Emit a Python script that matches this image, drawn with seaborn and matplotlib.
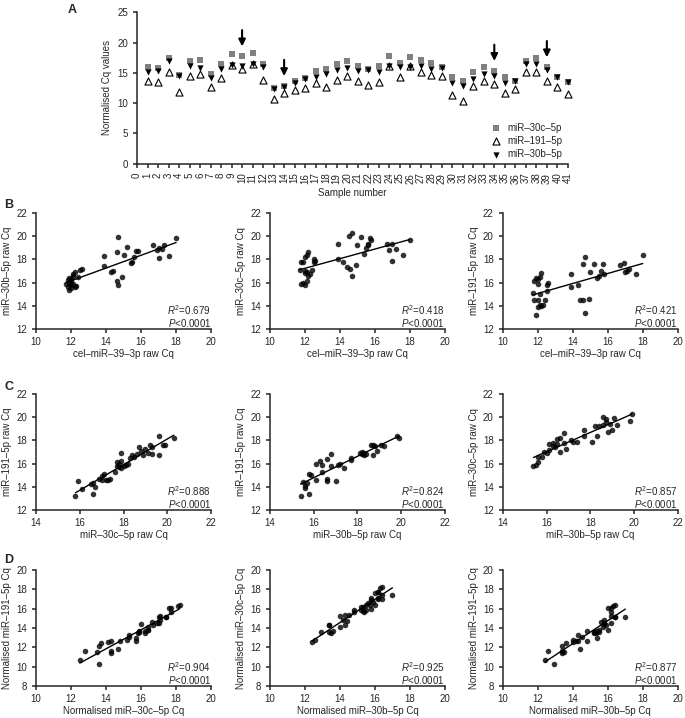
import numpy as np
import pandas as pd
import seaborn as sns
import matplotlib.pyplot as plt

# ---- data ----
samples = list(range(1, 42))
norm_30c = [15.9, 15.8, 17.4, 14.7, 17.0, 17.1, 14.8, 16.4, 18.1, 17.7, 18.2, 16.4, 12.5, 12.8,
            13.6, 14.1, 15.3, 15.7, 16.4, 16.9, 16.2, 15.7, 16.2, 17.7, 16.7, 17.6, 17.1, 16.6,
            16.0, 14.3, 13.6, 15.2, 15.9, 15.3, 14.3, 13.7, 17.0, 17.4, 15.9, 14.3, 13.5]
norm_191 = [13.6, 13.5, 15.1, 11.8, 14.5, 14.8, 12.7, 14.1, 16.3, 15.6, 16.4, 13.8, 10.7, 11.6,
            12.1, 12.5, 13.3, 12.6, 13.8, 14.5, 13.7, 13.0, 13.5, 16.1, 14.3, 16.1, 15.2, 14.6,
            14.4, 11.4, 10.3, 12.8, 13.7, 13.1, 11.6, 12.4, 15.1, 15.1, 13.6, 12.6, 11.5]
norm_30b = [15.2, 15.3, 17.0, 14.4, 16.2, 15.8, 14.2, 15.7, 16.3, 16.2, 16.4, 16.0, 12.4, 12.6,
            13.4, 14.0, 14.3, 14.8, 15.5, 15.8, 15.3, 15.4, 15.2, 16.2, 15.9, 16.0, 16.2, 15.6,
            15.8, 13.4, 12.9, 14.0, 14.8, 14.5, 13.4, 13.6, 16.4, 16.4, 15.5, 14.3, 13.5]
arrow_samples = [10, 14, 34, 39]

# panel B: raw Cq vs cel-miR-39 raw Cq
b1_x = [18.0, 17.3, 16.7, 17.0, 16.9, 17.2, 17.0, 17.6, 14.7, 15.2, 15.0, 14.6, 13.9, 13.9, 14.3,
        14.4, 14.6, 14.7, 14.9, 15.5, 15.4, 15.6, 15.7, 15.8, 11.7, 11.8, 11.9, 11.8, 11.9, 12.0,
        12.0, 12.1, 12.0, 12.1, 12.2, 12.2, 12.3, 12.1, 12.4, 12.5, 12.6, 11.9, 12.0]
b1_y = [19.8, 19.2, 19.2, 19.0, 18.8, 18.9, 18.1, 18.3, 19.9, 19.1, 18.4, 18.6, 18.3, 17.4, 16.9,
        17.0, 16.1, 15.8, 16.5, 17.8, 17.7, 18.2, 18.7, 18.7, 15.9, 16.2, 16.4, 15.6, 15.4, 15.5,
        15.8, 16.6, 16.1, 16.7, 16.9, 15.6, 15.7, 15.9, 16.5, 17.1, 17.2, 16.0, 16.3]
b2_x = [18.0, 17.6, 17.2, 17.0, 16.7, 16.8, 17.0, 13.9, 13.9, 14.2, 14.4, 14.6, 14.7, 14.9, 14.5,
        14.7, 15.2, 15.0, 15.4, 15.5, 15.6, 15.7, 15.8, 15.6, 11.7, 11.8, 11.9, 12.0, 12.1, 12.2,
        11.9, 11.8, 12.0, 12.0, 12.1, 12.2, 12.0, 12.3, 12.4, 12.5, 12.5, 12.6, 12.1]
b2_y = [19.7, 18.4, 18.9, 19.3, 19.3, 18.8, 17.9, 19.3, 18.0, 17.8, 17.3, 17.2, 16.6, 17.5, 20.0,
        20.3, 19.9, 19.2, 18.5, 19.0, 19.3, 19.8, 19.7, 19.2, 17.1, 17.8, 17.8, 18.2, 18.4, 18.6,
        16.0, 15.9, 15.8, 16.8, 16.9, 16.6, 17.0, 16.7, 17.1, 17.8, 18.0, 17.9, 16.1]
b3_x = [18.0, 17.6, 17.2, 17.0, 16.9, 16.7, 17.1, 13.9, 13.9, 14.3, 14.4, 14.6, 14.7, 14.9, 14.6,
        14.7, 15.0, 15.2, 15.4, 15.5, 15.6, 15.7, 15.8, 11.7, 11.8, 11.9, 11.8, 11.9, 12.0, 12.0,
        12.0, 12.1, 12.2, 12.1, 12.2, 12.3, 12.1, 12.4, 12.5, 12.5, 12.6, 12.0]
b3_y = [18.4, 16.7, 17.2, 16.9, 17.7, 17.5, 17.0, 16.7, 15.6, 15.8, 14.5, 14.5, 13.4, 14.6, 17.6,
        18.2, 16.9, 17.6, 16.4, 16.6, 17.0, 17.6, 16.7, 15.1, 16.1, 16.4, 14.5, 13.2, 13.9, 14.5,
        15.9, 16.5, 16.8, 14.1, 14.0, 14.1, 15.0, 14.5, 15.3, 15.8, 16.0, 16.3]

# panel C: raw Cq vs raw Cq
c1_x = [15.8, 15.9, 16.1, 16.5, 16.6, 16.7, 16.6, 16.9, 17.0, 17.0, 17.1, 17.2, 17.3, 17.4, 17.6,
        17.7, 17.8, 17.8, 17.9, 17.9, 18.0, 18.1, 18.2, 18.3, 18.4, 18.5, 18.6, 18.7, 18.8, 18.9,
        19.0, 19.1, 19.2, 19.3, 19.3, 19.6, 19.6, 19.8, 19.9, 20.3, 17.7, 17.9]
c1_y = [13.2, 14.5, 13.8, 14.2, 13.4, 14.0, 14.3, 14.7, 14.6, 14.9, 15.1, 14.6, 14.6, 14.7, 15.3,
        15.8, 16.0, 15.7, 16.9, 16.2, 15.8, 15.9, 16.0, 16.5, 16.7, 16.6, 16.8, 17.4, 17.1, 16.7,
        17.3, 16.9, 17.6, 17.4, 16.8, 16.7, 18.4, 17.6, 17.6, 18.2, 16.1, 15.6]
c2_x = [15.4, 15.5, 15.6, 15.6, 15.7, 15.8, 15.8, 15.9, 16.1, 16.1, 16.3, 16.4, 16.4, 16.6, 16.6,
        16.6, 16.8, 16.8, 17.0, 17.1, 17.2, 17.4, 17.7, 17.7, 18.1, 18.2, 18.3, 18.3, 18.4, 18.6,
        18.7, 18.7, 18.8, 18.9, 19.1, 19.2, 19.8, 19.9, 18.2]
c2_y = [13.2, 14.4, 14.1, 13.9, 14.3, 13.4, 15.1, 15.0, 14.6, 16.0, 16.2, 15.9, 15.3, 14.7, 14.5,
        16.4, 16.8, 15.8, 14.5, 15.9, 16.0, 15.6, 16.5, 16.3, 16.9, 17.0, 16.7, 16.9, 16.8, 17.6,
        17.6, 16.7, 17.5, 17.1, 17.6, 17.5, 18.4, 18.2, 16.8]
c3_x = [15.4, 15.5, 15.6, 15.6, 15.8, 15.9, 16.0, 16.1, 16.1, 16.3, 16.4, 16.5, 16.5, 16.6, 16.6,
        16.8, 16.8, 16.9, 17.1, 17.2, 17.4, 17.7, 17.7, 18.1, 18.2, 18.3, 18.4, 18.6, 18.7, 18.7,
        18.8, 18.9, 19.0, 19.1, 19.2, 19.8, 19.9, 18.6, 16.3]
c3_y = [15.8, 15.9, 16.1, 16.6, 16.6, 17.0, 16.9, 17.2, 17.7, 17.8, 17.4, 18.1, 17.7, 17.0, 18.2,
        17.8, 18.6, 17.3, 18.0, 17.9, 17.9, 18.9, 18.4, 17.9, 19.2, 18.4, 19.2, 20.0, 19.8, 19.6,
        18.7, 19.4, 18.9, 19.9, 19.3, 19.7, 20.3, 19.3, 17.5]

r2_values = [["0.679", "0.418", "0.421"],
             ["0.888", "0.824", "0.857"],
             ["0.904", "0.925", "0.877"]]

# ---- style ----
sns.set_style("ticks")
plt.rcParams['font.family'] = ['Liberation Sans', 'DejaVu Sans']
plt.rcParams['mathtext.fontset'] = 'custom'
plt.rcParams['mathtext.rm'] = 'Liberation Sans'
plt.rcParams['mathtext.it'] = 'Liberation Sans:italic'
plt.rcParams['font.size'] = 7
plt.rcParams['axes.linewidth'] = 1.1
plt.rcParams['xtick.major.width'] = 1.1
plt.rcParams['ytick.major.width'] = 1.1
plt.rcParams['xtick.major.size'] = 3
plt.rcParams['ytick.major.size'] = 3
plt.rcParams['xtick.labelsize'] = 7
plt.rcParams['ytick.labelsize'] = 7

fig = plt.figure(figsize=(6.85, 7.18), dpi=100)

# ---- panel A ----
axA = fig.add_axes([0.2, 0.772, 0.629, 0.211])
sns.scatterplot(x=samples, y=norm_30c, marker='s', color='#808080', s=20, linewidth=0,
                label='miR\u201330c\u20135p', ax=axA, clip_on=False, zorder=3)
sns.scatterplot(x=samples, y=norm_191, marker='^', facecolor='white', edgecolor='black', s=26,
                linewidth=0.8, label='miR\u2013191\u20135p', ax=axA, clip_on=False, zorder=3)
sns.scatterplot(x=samples, y=norm_30b, marker='v', color='black', s=20, linewidth=0,
                label='miR\u201330b\u20135p', ax=axA, clip_on=False, zorder=4)
for s in arrow_samples:
    top = max(norm_30c[s - 1], norm_191[s - 1], norm_30b[s - 1]) + 1.2
    axA.annotate('', xy=(s, top), xytext=(s, top + 3.6),
                 arrowprops=dict(arrowstyle='-|>', color='black', lw=1.5, mutation_scale=10))
axA.set_xlim(0, 41)
axA.set_ylim(0, 25)
axA.set_xticks(range(0, 42))
axA.set_xticklabels([str(i) for i in range(0, 42)], rotation=90)
axA.set_yticks(range(0, 26, 5))
axA.set_xlabel("Sample number", labelpad=3)
axA.set_ylabel("Normalised Cq values")
axA.legend(loc='lower right', bbox_to_anchor=(1.0, -0.01), frameon=False, fontsize=7,
           handletextpad=0.1, labelspacing=0.35, borderaxespad=0.2)
sns.despine(ax=axA)

# ---- panels B, C, D ----
lefts = [0.0526, 0.394, 0.734]
bottoms = [0.5418, 0.2897, 0.0446]
width, height = 0.2555, 0.1616

d = '\u2013'
panels = [
    [(b1_x, b1_y, f"cel{d}miR{d}39{d}3p raw Cq", f"miR{d}30b{d}5p raw Cq"),
     (b2_x, b2_y, f"cel{d}miR{d}39{d}3p raw Cq", f"miR{d}30c{d}5p raw Cq"),
     (b3_x, b3_y, f"cel{d}miR{d}39{d}3p raw Cq", f"miR{d}191{d}5p raw Cq")],
    [(c1_x, c1_y, f"miR{d}30c{d}5p raw Cq", f"miR{d}191{d}5p raw Cq"),
     (c2_x, c2_y, f"miR{d}30b{d}5p raw Cq", f"miR{d}191{d}5p raw Cq"),
     (c3_x, c3_y, f"miR{d}30b{d}5p raw Cq", f"miR{d}30c{d}5p raw Cq")],
    [(norm_30c, norm_191, f"Normalised miR{d}30c{d}5p Cq", f"Normalised miR{d}191{d}5p Cq"),
     (norm_30b, norm_30c, f"Normalised miR{d}30b{d}5p Cq", f"Normalised miR{d}30c{d}5p Cq"),
     (norm_30b, norm_191, f"Normalised miR{d}30b{d}5p Cq", f"Normalised miR{d}191{d}5p Cq")],
]
limits = [((10, 20), (12, 22)), ((14, 22), (12, 22)), ((10, 20), (8, 20))]

for r in range(3):
    for c in range(3):
        x, y, xl, yl = panels[r][c]
        ax = fig.add_axes([lefts[c], bottoms[r], width, height])
        sns.regplot(x=np.array(x), y=np.array(y), ci=None, ax=ax,
                    scatter_kws={'s': 16, 'color': 'black', 'linewidths': 0},
                    line_kws={'color': 'black', 'lw': 1})
        (x0, x1), (y0, y1) = limits[r]
        ax.set_xlim(x0, x1)
        ax.set_ylim(y0, y1)
        ax.set_xticks(np.arange(x0, x1 + 1, 2))
        ax.set_yticks(np.arange(y0, y1 + 1, 2))
        ax.tick_params(axis='x', pad=2.5)
        ax.set_xlabel(xl, labelpad=2)
        ax.set_ylabel(yl, labelpad=3)
        ax.text(1.0, 0.16, r"$\it{R}^2$=" + r2_values[r][c], transform=ax.transAxes,
                ha='right', va='center', fontsize=7)
        ax.text(1.0, 0.05, r"$\it{P}$<0.0001", transform=ax.transAxes,
                ha='right', va='center', fontsize=7)
        sns.despine(ax=ax)

for letter, (lx, ly) in zip("ABCD", [(0.099, 0.986), (0.006, 0.714), (0.006, 0.461), (0.006, 0.22)]):
    fig.text(lx, ly, letter, fontsize=9, fontweight='bold', ha='left', va='center')

fig.savefig("out.png", dpi=100)
